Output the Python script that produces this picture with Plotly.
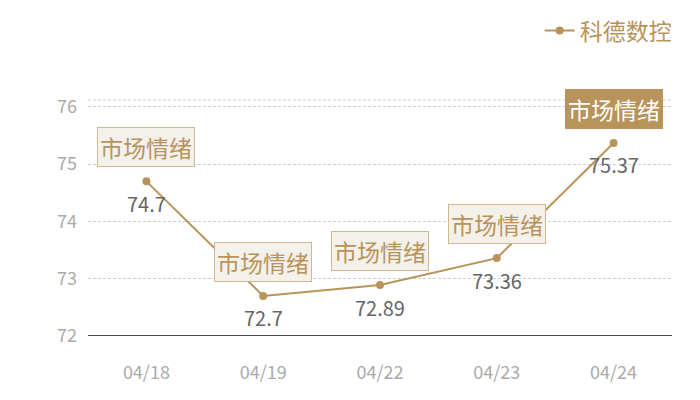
import plotly.graph_objects as go

# 数据
dates = ["04/18", "04/19", "04/22", "04/23", "04/24"]
values = [74.7, 72.7, 72.89, 73.36, 75.37]
value_labels = ["74.7", "72.7", "72.89", "73.36", "75.37"]
tag_text = "市场情绪"
series_name = "科德数控"
y_ticks = [72, 73, 74, 75, 76]

GOLD = "#b8935a"
FONT = "Noto Sans CJK SC, Microsoft YaHei, sans-serif"

fig = go.Figure()
fig.add_trace(go.Scatter(
    x=dates, y=values, mode="lines+markers", name=series_name,
    line={"color": GOLD, "width": 2},
    marker={"color": GOLD, "size": 8},
))

annotations = []
for i, (d, v) in enumerate(zip(dates, values)):
    last = i == len(dates) - 1
    # 标签框
    annotations.append(dict(
        x=d, y=v, text=tag_text, showarrow=False, yshift=34,
        font={"size": 23, "color": "white" if last else GOLD, "family": FONT},
        bgcolor=GOLD if last else "#f4f0ea",
        bordercolor=GOLD if last else "#d2b88c", borderwidth=1, borderpad=2,
    ))
    # 数值
    annotations.append(dict(
        x=d, y=v, text=value_labels[i], showarrow=False, yshift=-22,
        font={"size": 20, "color": "#666666", "family": FONT},
    ))

fig.update_layout(
    width=700, height=400,
    margin={"l": 80, "r": 36, "t": 92, "b": 72, "autoexpand": False},
    paper_bgcolor="white", plot_bgcolor="white",
    font={"family": FONT},
    showlegend=True,
    legend={"x": 1.008, "y": 1.385, "xanchor": "right", "yanchor": "top",
            "font": {"size": 23, "color": GOLD}, "bgcolor": "rgba(0,0,0,0)",
            "itemwidth": 30},
    annotations=annotations,
    shapes=[dict(type="line", xref="paper", yref="paper", x0=0, x1=1, y0=1, y1=1,
                 line={"color": "#cccccc", "width": 1, "dash": "3px,2px"})],
)
fig.update_xaxes(
    type="category", range=[-0.5, 4.5], showgrid=False,
    showline=False, ticks="", tickfont={"size": 18, "color": "#aaaaaa"},
    ticklabelstandoff=24,
)
fig.update_yaxes(
    range=[72, 76.12], tickvals=y_ticks, showgrid=True, gridcolor="#cccccc",
    griddash="3px,2px", zeroline=False, showline=False, ticks="",
    tickfont={"size": 18, "color": "#aaaaaa"}, ticklabelstandoff=10,
)
# 底部坐标轴线
fig.add_hline(y=72, line_color="#111111", line_width=1.3)

fig.write_html("out.html")
